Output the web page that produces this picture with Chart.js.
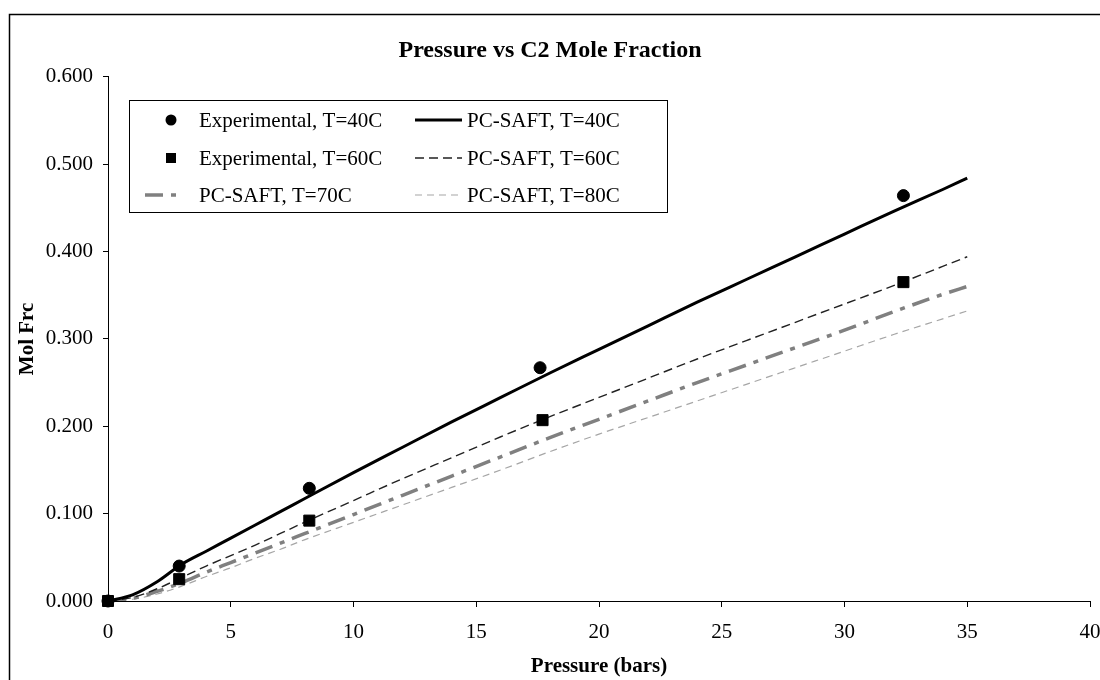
<!DOCTYPE html>
<html lang="en">
<head>
<meta charset="UTF-8">
<title>Pressure vs C2 Mole Fraction</title>
<style>
body { margin: 0; background: #fff; }
.chart-box { width: 1100px; height: 680px; position: relative; }
</style>
</head>
<body>
<div class="chart-box">
    <canvas id="moleChart"></canvas>
</div>

<script src="https://cdn.jsdelivr.net/npm/chart.js"></script>
<script>
// Experimental points
const expPressure40 = [0, 2.9, 8.2, 17.6, 32.4];
const expFrac40 = [0, 0.040, 0.129, 0.267, 0.464];
const expPressure60 = [0, 2.9, 8.2, 17.7, 32.4];
const expFrac60 = [0, 0.025, 0.092, 0.207, 0.365];

// PC-SAFT model curves, sampled along pressure
const saftPressure = [0, 1, 2, 3, 4, 5, 6, 7, 8, 10, 12, 14, 16, 18, 20, 22, 24, 26, 28, 30, 32, 34, 35];
const saft40 = [0, 0.007, 0.022, 0.042, 0.057, 0.072, 0.087, 0.102, 0.117, 0.147, 0.176, 0.205, 0.233, 0.261, 0.288, 0.315, 0.342, 0.368, 0.394, 0.420, 0.446, 0.471, 0.484];
const saft60 = [0, 0.004, 0.014, 0.027, 0.040, 0.052, 0.064, 0.077, 0.090, 0.115, 0.140, 0.164, 0.188, 0.211, 0.233, 0.255, 0.277, 0.298, 0.319, 0.340, 0.361, 0.383, 0.394];
const saft70 = [0, 0.003, 0.011, 0.021, 0.033, 0.044, 0.055, 0.066, 0.077, 0.099, 0.121, 0.143, 0.165, 0.187, 0.208, 0.229, 0.250, 0.270, 0.290, 0.310, 0.331, 0.351, 0.360];
const saft80 = [0, 0.002, 0.008, 0.017, 0.028, 0.038, 0.049, 0.059, 0.070, 0.090, 0.110, 0.130, 0.150, 0.171, 0.191, 0.210, 0.229, 0.248, 0.267, 0.286, 0.305, 0.323, 0.332];

const xTicks = [0, 5, 10, 15, 20, 25, 30, 35, 40];
const yTicks = [0, 0.1, 0.2, 0.3, 0.4, 0.5, 0.6];

const serif = "'Liberation Serif', 'Times New Roman', serif";

function pairs(xs, ys) {
    return xs.map((x, i) => ({ x: x, y: ys[i] }));
}

const datasets = [
    { label: 'Experimental, T=40C', data: pairs(expPressure40, expFrac40), showLine: false,
      pointStyle: 'circle', pointRadius: 6, backgroundColor: '#000', borderColor: '#000', clip: false },
    { label: 'Experimental, T=60C', data: pairs(expPressure60, expFrac60), showLine: false,
      pointStyle: 'rect', pointRadius: 7.8, backgroundColor: '#000', borderColor: '#000', clip: false },
    { label: 'PC-SAFT, T=40C', data: pairs(saftPressure, saft40), showLine: true, pointRadius: 0,
      borderColor: '#000', borderWidth: 3, borderDash: [], cubicInterpolationMode: 'monotone' },
    { label: 'PC-SAFT, T=60C', data: pairs(saftPressure, saft60), showLine: true, pointRadius: 0,
      borderColor: '#222', borderWidth: 1.4, borderDash: [9, 5], cubicInterpolationMode: 'monotone' },
    { label: 'PC-SAFT, T=70C', data: pairs(saftPressure, saft70), showLine: true, pointRadius: 0,
      borderColor: '#808080', borderWidth: 3.5, borderDash: [18, 8, 5, 8], cubicInterpolationMode: 'monotone' },
    { label: 'PC-SAFT, T=80C', data: pairs(saftPressure, saft80), showLine: true, pointRadius: 0,
      borderColor: '#a6a6a6', borderWidth: 1.2, borderDash: [7, 5], cubicInterpolationMode: 'monotone' }
];

// outer chart frame, like the spreadsheet chart border
const framePlugin = {
    id: 'frame',
    beforeDraw(chart) {
        const ctx = chart.ctx;
        ctx.save();
        ctx.fillStyle = '#fff';
        ctx.fillRect(0, 0, chart.width, chart.height);
        ctx.strokeStyle = '#000';
        ctx.lineWidth = 1.5;
        ctx.strokeRect(9.5, 14.5, 1200, 800);
        ctx.restore();
    }
};

// two-column boxed legend inside the plot area
const boxLegend = {
    id: 'boxLegend',
    afterDraw(chart) {
        const ctx = chart.ctx;
        const ds = chart.data.datasets;
        const box = { left: 129, top: 100, right: 667, bottom: 212 };
        const rowsY = [120, 158, 195];
        // [dataset index, column]
        const layout = [[0, 0], [2, 1], [1, 0], [3, 1], [4, 0], [5, 1]];
        ctx.save();
        ctx.fillStyle = '#fff';
        ctx.fillRect(box.left, box.top, box.right - box.left, box.bottom - box.top);
        ctx.strokeStyle = '#000';
        ctx.lineWidth = 1;
        ctx.strokeRect(box.left + 0.5, box.top + 0.5, box.right - box.left, box.bottom - box.top);
        ctx.font = '21px ' + serif;
        ctx.textBaseline = 'middle';
        ctx.fillStyle = '#000';
        layout.forEach(([idx, col], n) => {
            const d = ds[idx];
            const y = rowsY[Math.floor(n / 2)];
            const textX = col === 0 ? 199 : 467;
            if (!d.showLine) {
                ctx.fillStyle = '#000';
                if (d.pointStyle === 'circle') {
                    ctx.beginPath();
                    ctx.arc(171, y, 5.5, 0, Math.PI * 2);
                    ctx.fill();
                } else {
                    ctx.fillRect(171 - 5, y - 5, 10, 10);
                }
            } else {
                const x0 = col === 0 ? 145 : 415;
                const x1 = col === 0 ? 183 : 462;
                ctx.strokeStyle = d.borderColor;
                ctx.lineWidth = d.borderWidth;
                ctx.setLineDash(d.borderDash || []);
                ctx.beginPath();
                ctx.moveTo(x0, y);
                ctx.lineTo(x1, y);
                ctx.stroke();
                ctx.setLineDash([]);
            }
            ctx.fillStyle = '#000';
            ctx.fillText(d.label, textX, y + 1);
        });
        ctx.restore();
    }
};

new Chart(document.getElementById('moleChart'), {
    type: 'scatter',
    data: { datasets: datasets },
    options: {
        responsive: true,
        maintainAspectRatio: false,
        animation: false,
        layout: { padding: { left: 0, right: 0, top: 0, bottom: 0 } },
        plugins: {
            legend: { display: false },
            tooltip: { enabled: false },
            title: {
                display: true,
                text: 'Pressure vs C2 Mole Fraction',
                color: '#000',
                font: { family: serif, size: 24, weight: 'bold' },
                padding: { top: 36, bottom: 12 }
            }
        },
        scales: {
            x: {
                type: 'linear',
                min: 0,
                max: 40,
                afterFit(scale) { scale.height = 79; scale.paddingRight = 10; },
                afterBuildTicks(scale) { scale.ticks = xTicks.map(v => ({ value: v })); },
                border: { color: '#000', width: 1 },
                grid: { display: true, drawOnChartArea: false, color: '#000', tickLength: 6 },
                ticks: { color: '#000', padding: 13, maxRotation: 0, font: { family: serif, size: 21 } },
                title: {
                    display: true,
                    text: 'Pressure (bars)',
                    color: '#000',
                    font: { family: serif, size: 21, weight: 'bold' },
                    padding: { top: 0, bottom: 1 }
                }
            },
            y: {
                type: 'linear',
                min: 0,
                max: 0.6,
                afterFit(scale) { scale.width = 108; },
                afterBuildTicks(scale) { scale.ticks = yTicks.map(v => ({ value: v })); },
                border: { color: '#000', width: 1 },
                grid: { display: true, drawOnChartArea: false, color: '#000', tickLength: 5 },
                ticks: {
                    color: '#000',
                    padding: 10,
                    font: { family: serif, size: 21 },
                    callback: v => v.toFixed(3)
                },
                title: {
                    display: true,
                    text: 'Mol Frc',
                    color: '#000',
                    font: { family: serif, size: 21, weight: 'bold' },
                    padding: { top: 15, bottom: 0 }
                }
            }
        }
    },
    plugins: [framePlugin, boxLegend]
});
</script>
</body>
</html>
